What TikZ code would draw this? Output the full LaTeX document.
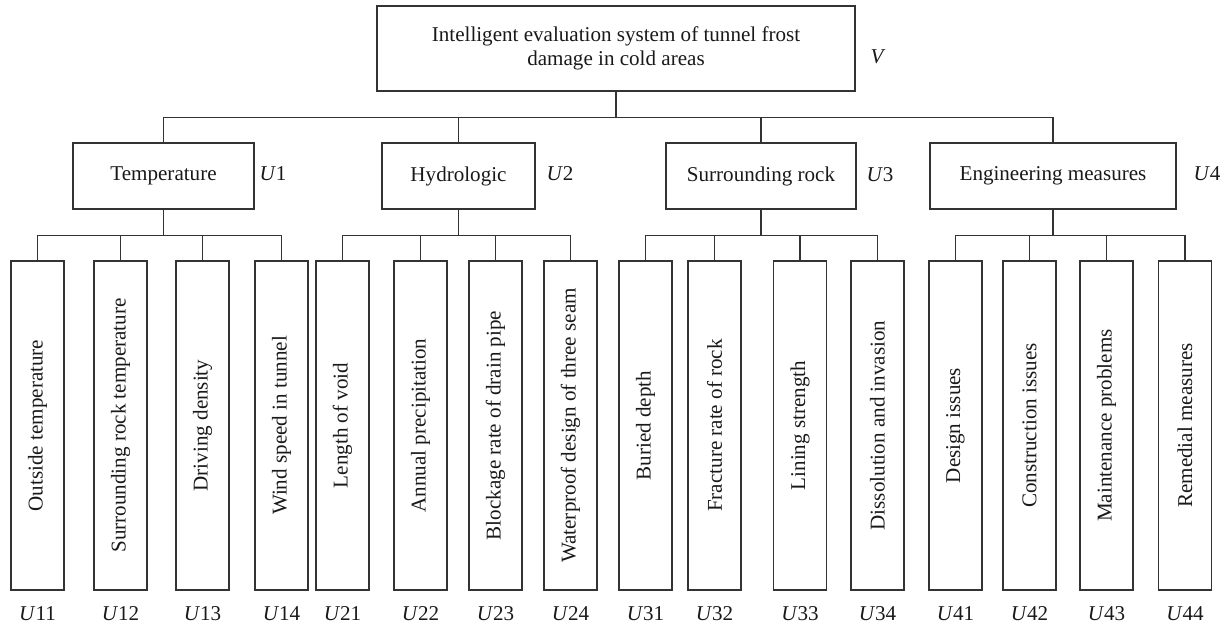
\documentclass[tikz,border=0pt]{standalone}
\usepackage{fontspec}
\setmainfont{Liberation Serif}
\usepackage{graphicx}
\usetikzlibrary{calc, positioning}

\begin{document}
\begin{tikzpicture}[x=0.02cm, y=-0.02cm,
  every node/.style={font=\fontsize{12}{14}\selectfont, text=black!90},
  box/.style={draw=black!80, line width=0.8pt, inner sep=0pt, align=center},
  mid/.style={box, minimum height=1.32cm},
  leaf/.style={box, minimum width=1.06cm, minimum height=6.58cm},
  link/.style={draw=black!80, line width=0.8pt},
  tag/.style={below=0.2cm of #1}
]
\useasboundingbox (0,0) rectangle (1228,629);

\def\yMid{176}
\def\yLeaf{425.5}

% goal
\node[box, minimum width=9.56cm, minimum height=1.7cm] (V) at (616,48.5)
  {Intelligent evaluation system of tunnel frost\\damage in cold areas};
\node at (878,57) {\textit{V}};

% criteria
\node[mid, minimum width=3.62cm] (U1) at (163.5,\yMid) {Temperature};
\node[mid, minimum width=3.06cm] (U2) at (458.5,\yMid) {Hydrologic};
\node[mid, minimum width=3.80cm] (U3) at (761,\yMid) {Surrounding rock};
\node[mid, minimum width=4.92cm] (U4) at (1053,\yMid) {Engineering measures};
\node at (273,174) {\textit{U}1};
\node at (560,174) {\textit{U}2};
\node at (880,175) {\textit{U}3};
\node at (1207,174) {\textit{U}4};

% indicators
\node[leaf] (U11) at (37.5,\yLeaf) {\rotatebox{90}{Outside temperature}};
\node[leaf] (U12) at (120.5,\yLeaf) {\rotatebox{90}{Surrounding rock temperature}};
\node[leaf] (U13) at (202.5,\yLeaf) {\rotatebox{90}{Driving density}};
\node[leaf] (U14) at (281.5,\yLeaf) {\rotatebox{90}{Wind speed in tunnel}};
\node[leaf] (U21) at (342.5,\yLeaf) {\rotatebox{90}{Length of void}};
\node[leaf] (U22) at (420.5,\yLeaf) {\rotatebox{90}{Annual precipitation}};
\node[leaf] (U23) at (495.5,\yLeaf) {\rotatebox{90}{Blockage rate of drain pipe}};
\node[leaf] (U24) at (570.5,\yLeaf) {\rotatebox{90}{Waterproof design of three seam}};
\node[leaf] (U31) at (645.5,\yLeaf) {\rotatebox{90}{Buried depth}};
\node[leaf] (U32) at (714.5,\yLeaf) {\rotatebox{90}{Fracture rate of rock}};
\node[leaf] (U33) at (800,\yLeaf) {\rotatebox{90}{Lining strength}};
\node[leaf] (U34) at (877.5,\yLeaf) {\rotatebox{90}{Dissolution and invasion}};
\node[leaf] (U41) at (955.5,\yLeaf) {\rotatebox{90}{Design issues}};
\node[leaf] (U42) at (1029.5,\yLeaf) {\rotatebox{90}{Construction issues}};
\node[leaf] (U43) at (1106.5,\yLeaf) {\rotatebox{90}{Maintenance problems}};
\node[leaf] (U44) at (1185,\yLeaf) {\rotatebox{90}{Remedial measures}};

\node[tag=U11] {\textit{U}11};
\node[tag=U12] {\textit{U}12};
\node[tag=U13] {\textit{U}13};
\node[tag=U14] {\textit{U}14};
\node[tag=U21] {\textit{U}21};
\node[tag=U22] {\textit{U}22};
\node[tag=U23] {\textit{U}23};
\node[tag=U24] {\textit{U}24};
\node[tag=U31] {\textit{U}31};
\node[tag=U32] {\textit{U}32};
\node[tag=U33] {\textit{U}33};
\node[tag=U34] {\textit{U}34};
\node[tag=U41] {\textit{U}41};
\node[tag=U42] {\textit{U}42};
\node[tag=U43] {\textit{U}43};
\node[tag=U44] {\textit{U}44};

% tree lines
\draw[link] (V.south) -- ++(0,26) -| (U1.north);
\draw[link] (V.south) -- ++(0,26) -| (U2.north);
\draw[link] (V.south) -- ++(0,26) -| (U3.north);
\draw[link] (V.south) -- ++(0,26) -| (U4.north);

\draw[link] (U1.south) -- ++(0,26) -| (U11.north);
\draw[link] (U1.south) -- ++(0,26) -| (U12.north);
\draw[link] (U1.south) -- ++(0,26) -| (U13.north);
\draw[link] (U1.south) -- ++(0,26) -| (U14.north);

\draw[link] (U2.south) -- ++(0,26) -| (U21.north);
\draw[link] (U2.south) -- ++(0,26) -| (U22.north);
\draw[link] (U2.south) -- ++(0,26) -| (U23.north);
\draw[link] (U2.south) -- ++(0,26) -| (U24.north);

\draw[link] (U3.south) -- ++(0,26) -| (U31.north);
\draw[link] (U3.south) -- ++(0,26) -| (U32.north);
\draw[link] (U3.south) -- ++(0,26) -| (U33.north);
\draw[link] (U3.south) -- ++(0,26) -| (U34.north);

\draw[link] (U4.south) -- ++(0,26) -| (U41.north);
\draw[link] (U4.south) -- ++(0,26) -| (U42.north);
\draw[link] (U4.south) -- ++(0,26) -| (U43.north);
\draw[link] (U4.south) -- ++(0,26) -| (U44.north);
\end{tikzpicture}
\end{document}
